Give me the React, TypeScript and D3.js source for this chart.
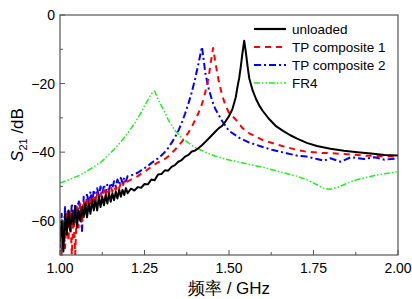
import React, { useEffect, useRef } from 'react';
import * as d3 from 'd3';

// S21 curves (frequency in GHz, S21 in dB)
const unloadedF = [
  1.0, 1.005, 1.01, 1.015, 1.02, 1.025, 1.03, 1.035, 1.04, 1.045, 1.05, 1.055, 1.06, 1.065, 1.07,
  1.075, 1.08, 1.085, 1.09, 1.095, 1.1, 1.105, 1.11, 1.115, 1.12, 1.125, 1.13, 1.135, 1.14, 1.145,
  1.15, 1.155, 1.16, 1.165, 1.17, 1.175, 1.18, 1.185, 1.19, 1.195, 1.2, 1.21, 1.22, 1.23, 1.24,
  1.25, 1.26, 1.27, 1.28, 1.29, 1.3, 1.31, 1.32, 1.33, 1.34, 1.35, 1.36, 1.37, 1.38, 1.39, 1.4,
  1.41, 1.42, 1.43, 1.44, 1.45, 1.46, 1.47, 1.48, 1.49, 1.5, 1.51, 1.52, 1.525, 1.53, 1.535, 1.54,
  1.545, 1.55, 1.555, 1.56, 1.57, 1.58, 1.59, 1.6, 1.62, 1.64, 1.66, 1.68, 1.7, 1.73, 1.76, 1.8,
  1.84, 1.88, 1.92, 1.96, 2.0
];
const unloadedDb = [
  -66, -60, -69, -58, -64, -57, -63, -58, -61, -56, -62, -57, -60, -56, -59,
  -55, -59, -55, -58, -54, -57, -54, -57, -53, -56, -53, -55.5, -52.5, -55, -52,
  -54.5, -52, -54, -51.5, -53.5, -51, -53, -51, -52.5, -50.5, -52, -50.6, -51.2, -50.2, -50.4,
  -49.3, -49.4, -48, -48.2, -46.5, -46.4, -45.3, -45.4, -44.3, -43.8, -42.8, -42.3, -41.3, -40.8, -39.8, -39.5,
  -38.8, -38, -37, -36, -35, -34, -33, -32.3, -31, -29.5, -27.5, -24, -21, -18.5, -15, -11,
  -7.5, -11, -15, -18.5, -22, -24.5, -26.5, -28, -30.5, -32.5, -33.8, -35, -36, -37.3, -38.2, -39,
  -39.6, -40, -40.4, -40.8, -41
];

const tp1F = [
  1.0, 1.005, 1.01, 1.015, 1.02, 1.025, 1.03, 1.035, 1.04, 1.045, 1.05, 1.055, 1.06, 1.065, 1.07,
  1.075, 1.08, 1.085, 1.09, 1.095, 1.1, 1.105, 1.11, 1.115, 1.12, 1.125, 1.13, 1.135, 1.14, 1.145,
  1.15, 1.155, 1.16, 1.165, 1.17, 1.175, 1.18, 1.185, 1.19, 1.195, 1.2, 1.21, 1.22, 1.23, 1.24,
  1.25, 1.26, 1.27, 1.28, 1.29, 1.3, 1.31, 1.32, 1.33, 1.34, 1.35, 1.36, 1.37, 1.38, 1.39, 1.4,
  1.41, 1.42, 1.43, 1.44, 1.445, 1.453, 1.46, 1.47, 1.48, 1.49, 1.5, 1.52, 1.54, 1.56, 1.58, 1.6,
  1.63, 1.66, 1.7, 1.73, 1.77, 1.8, 1.85, 1.9, 1.95, 2.0
];
const tp1Db = [
  -62, -70, -60, -68, -58, -66, -57, -70, -58, -70, -56, -62, -55, -60, -54,
  -58, -54, -57, -53, -56, -52.5, -55, -52, -54, -51.5, -53.5, -51, -53, -50.5, -52,
  -50, -51.5, -50, -51, -49.5, -50.5, -49, -50, -48.5, -49.5, -48.5, -48, -47.5, -47, -46.3,
  -45.8, -45, -44.3, -43.6, -43, -42.5, -42, -41.3, -40.3, -39.3, -38.2, -37, -35.7, -34.3, -32.6, -30.6,
  -28.5, -26, -22.5, -18, -14.5, -9.6, -14, -19.5, -23.5, -26.5, -28.5, -30.5, -33, -34.5, -35.5, -36.5,
  -37.4, -38.3, -39.3, -39.9, -40.2, -40.3, -40.6, -41, -41.2, -41.3
];

const tp2F = [
  1.0, 1.005, 1.01, 1.015, 1.02, 1.025, 1.03, 1.035, 1.04, 1.045, 1.05, 1.055, 1.06, 1.065, 1.07,
  1.075, 1.08, 1.085, 1.09, 1.095, 1.1, 1.105, 1.11, 1.115, 1.12, 1.125, 1.13, 1.135, 1.14, 1.145,
  1.15, 1.155, 1.16, 1.165, 1.17, 1.175, 1.18, 1.185, 1.19, 1.195, 1.2, 1.21, 1.22, 1.23, 1.24,
  1.25, 1.26, 1.27, 1.28, 1.29, 1.3, 1.31, 1.32, 1.33, 1.34, 1.35, 1.36, 1.37, 1.38, 1.39, 1.4,
  1.41, 1.42, 1.425, 1.43, 1.44, 1.45, 1.46, 1.48, 1.5, 1.53, 1.56, 1.6, 1.63, 1.67, 1.7, 1.73,
  1.76, 1.78, 1.8, 1.83, 1.86, 1.9, 1.93, 1.96, 2.0
];
const tp2Db = [
  -68, -58, -66, -56, -64, -57, -62, -55, -60, -55, -59, -54, -57, -63, -53,
  -58, -52, -56, -51.5, -55, -51, -54, -50.5, -53, -50, -52.5, -49.5, -52, -49.5, -51,
  -49, -50.5, -48.5, -50, -48, -49.5, -47.5, -49, -47.5, -48.5, -47, -46.8, -46.4, -46, -45.3,
  -44.7, -44, -43.2, -42.5, -41.8, -41, -40, -38.8, -37.3, -35.7, -33.8, -31.5, -28.8, -25.8, -22.5, -18.5,
  -14, -9.3, -13, -17, -21.5, -25, -27.5, -31, -33.8, -35.8, -37.2, -38.5, -39.4, -40.3, -41, -41.3,
  -42, -42.5, -41.8, -42.8, -41.5, -42, -41.5, -42.2, -41.8
];

const fr4F = [
  1.0, 1.02, 1.04, 1.06, 1.08, 1.1, 1.12, 1.14, 1.16, 1.18, 1.2, 1.22, 1.24, 1.25, 1.26,
  1.27, 1.28, 1.29, 1.3, 1.31, 1.32, 1.34, 1.36, 1.38, 1.4, 1.43, 1.46, 1.5, 1.53, 1.56,
  1.6, 1.63, 1.66, 1.7, 1.73, 1.76, 1.78, 1.8, 1.82, 1.84, 1.86, 1.88, 1.9, 1.93, 1.96, 2.0
];
const fr4Db = [
  -49, -48.3, -47.5, -46.7, -45.5, -44.3, -43, -41.2, -39.2, -37, -34.5, -31.7, -28.5, -26.5, -24.8,
  -23, -22.2, -24.5, -26.5, -28.3, -30.5, -33.7, -35.8, -37.3, -38.6, -40, -41.2, -42.3, -42.9, -43.6,
  -44.4, -45.2, -46, -47, -48, -49.5, -50.6, -50.8, -50.3, -49.5, -48.6, -48, -47.5, -46.8, -46.3, -45.7
];

const seriesNames = ['unloaded', 'TP composite 1', 'TP composite 2', 'FR4'];
const xTicks = [1.0, 1.25, 1.5, 1.75, 2.0];
const yTicks = [0, -20, -40, -60];

const styles = [
  { color: '#000000', dash: null, width: 2 },
  { color: '#ff0000', dash: '6,5', width: 2 },
  { color: '#0000ff', dash: '7,3,2,3', width: 2 },
  { color: '#22ee22', dash: '6,2,1.5,2,1.5,2', width: 1.5 }
];

export default function App() {
  const ref = useRef<SVGSVGElement>(null);

  useEffect(() => {
    const svg = d3.select(ref.current);
    svg.selectAll('*').remove();

    const left = 60, right = 398, top = 15, bottom = 255;
    const x = d3.scaleLinear().domain([1, 2]).range([left, right]);
    const y = d3.scaleLinear().domain([-70, 0]).range([bottom, top]);
    const font = 'Liberation Sans, Arial, sans-serif';

    svg.append('defs').append('clipPath').attr('id', 'plotclip')
      .append('rect').attr('x', left).attr('y', top)
      .attr('width', right - left).attr('height', bottom - top);

    const data = [
      d3.zip(unloadedF, unloadedDb),
      d3.zip(tp1F, tp1Db),
      d3.zip(tp2F, tp2Db),
      d3.zip(fr4F, fr4Db)
    ];

    const line = d3.line<number[]>()
      .x(d => x(d[0]))
      .y(d => y(d[1]));

    const plot = svg.append('g').attr('clip-path', 'url(#plotclip)');
    // FR4 first, unloaded last on top
    [3, 2, 1, 0].forEach(i => {
      const s = styles[i];
      const p = plot.append('path')
        .attr('d', line(data[i]))
        .attr('fill', 'none')
        .attr('stroke', s.color)
        .attr('stroke-width', s.width)
        .attr('stroke-linejoin', 'round');
      if (s.dash) p.attr('stroke-dasharray', s.dash);
    });

    // frame
    svg.append('rect')
      .attr('x', left).attr('y', top)
      .attr('width', right - left).attr('height', bottom - top)
      .attr('fill', 'none').attr('stroke', '#555').attr('stroke-width', 1.2);

    // x ticks, inward
    d3.range(1, 2.0001, 0.125).forEach((v, i) => {
      const len = i % 2 === 0 ? 5 : 3;
      svg.append('line')
        .attr('x1', x(v)).attr('x2', x(v))
        .attr('y1', bottom).attr('y2', bottom - len)
        .attr('stroke', '#555').attr('stroke-width', 1);
    });
    xTicks.forEach(v => {
      svg.append('text')
        .attr('x', x(v)).attr('y', bottom + 18)
        .attr('text-anchor', 'middle')
        .attr('font-family', font).attr('font-size', 14)
        .text(d3.format('.2f')(v));
    });

    // y ticks, inward
    d3.range(-70, 0.001, 10).forEach(v => {
      const len = Math.round(v) % 20 === 0 ? 5 : 3;
      svg.append('line')
        .attr('x1', left).attr('x2', left + len)
        .attr('y1', y(v)).attr('y2', y(v))
        .attr('stroke', '#555').attr('stroke-width', 1);
    });
    yTicks.forEach(v => {
      svg.append('text')
        .attr('x', left - 5).attr('y', y(v) + 5)
        .attr('text-anchor', 'end')
        .attr('font-family', font).attr('font-size', 14)
        .text(v === 0 ? '0' : '\u2212' + Math.abs(v));
    });

    // axis titles
    svg.append('text')
      .attr('x', (left + right) / 2).attr('y', 294)
      .attr('text-anchor', 'middle')
      .attr('font-family', font).attr('font-size', 17)
      .text('频率 / GHz');

    const yt = svg.append('text')
      .attr('transform', `translate(23,${(top + bottom) / 2}) rotate(-90)`)
      .attr('text-anchor', 'middle')
      .attr('font-family', font).attr('font-size', 17);
    yt.append('tspan').attr('font-style', 'italic').text('S');
    yt.append('tspan').attr('font-size', 11).attr('dy', 4).text('21');
    yt.append('tspan').attr('dy', -4).text(' /dB');

    // legend
    seriesNames.forEach((name, i) => {
      const s = styles[i];
      const ly = 29 + i * 18;
      const l = svg.append('line')
        .attr('x1', 254).attr('x2', 286)
        .attr('y1', ly).attr('y2', ly)
        .attr('stroke', s.color).attr('stroke-width', s.width + 0.2);
      if (s.dash) l.attr('stroke-dasharray', s.dash);
      svg.append('text')
        .attr('x', 292).attr('y', ly + 5)
        .attr('font-family', font).attr('font-size', 13.5)
        .text(name);
    });
  }, []);

  return (
    <svg ref={ref} width={412} height={299}
      style={{ position: 'absolute', left: 0, top: 0, background: '#fff' }} />
  );
}
